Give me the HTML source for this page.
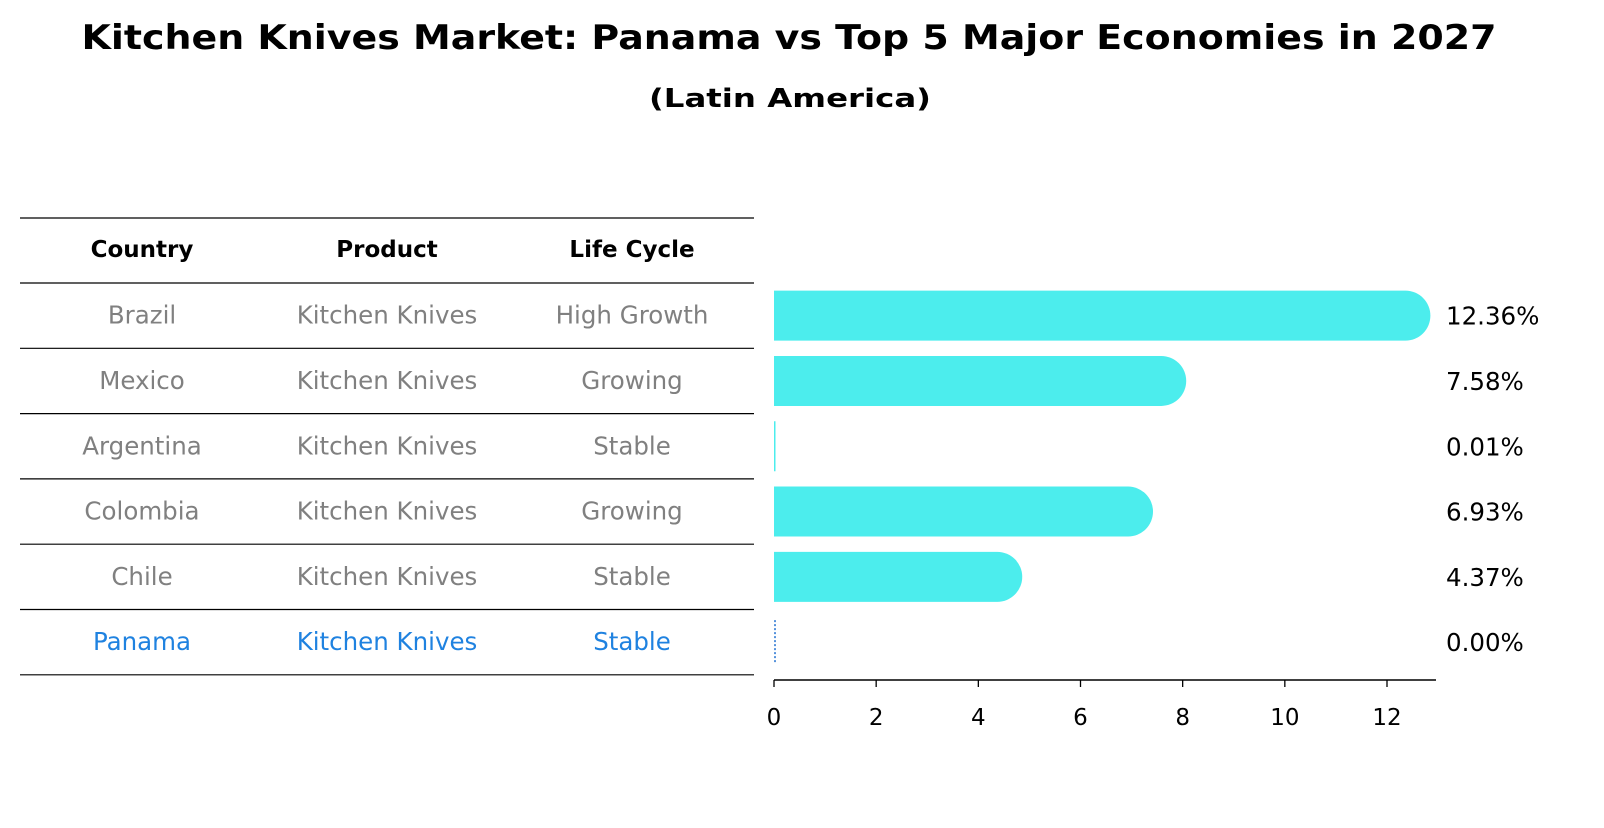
<!DOCTYPE html>
<html><head><meta charset="utf-8"><style>
body{margin:0;background:#fff;}
svg text{font-family:"DejaVu Sans","Liberation Sans",sans-serif;}
</style></head><body>
<svg width="1604" height="823" xmlns="http://www.w3.org/2000/svg" id="chart">
<text x="789" y="49" text-anchor="middle" font-size="34" font-weight="bold" textLength="1415" lengthAdjust="spacingAndGlyphs">Kitchen Knives Market: Panama vs Top 5 Major Economies in 2027</text>
<text x="790" y="107" text-anchor="middle" font-size="26" font-weight="bold" textLength="282" lengthAdjust="spacingAndGlyphs">(Latin America)</text>
<g id="table"></g>
<g id="bars"></g>
<g id="axis"></g>
</svg>
<script>
const countries=["Brazil","Mexico","Argentina","Colombia","Chile","Panama"];
const products=["Kitchen Knives","Kitchen Knives","Kitchen Knives","Kitchen Knives","Kitchen Knives","Kitchen Knives"];
const lifeCycles=["High Growth","Growing","Stable","Growing","Stable","Stable"];
const values=[12.36,7.58,0.01,6.93,4.37,0.00];
const ticks=[0,2,4,6,8,10,12];
const NS="http://www.w3.org/2000/svg";
function mk(tag,attrs,parent,txt){const e=document.createElementNS(NS,tag);for(const k in attrs)e.setAttribute(k,attrs[k]);if(txt!==undefined)e.textContent=txt;parent.appendChild(e);return e;}
const x0=774,xs=(1387-774)/12;
function X(v){return x0+v*xs;}
const rowTop=283,rowH=65.3;
function rowC(i){return rowTop+rowH*(i+0.5);}
const tbl=document.getElementById('table'),bars=document.getElementById('bars'),ax=document.getElementById('axis');
const colX=[142,387,632];
["Country","Product","Life Cycle"].forEach((h,j)=>{
 const t=mk('text',{x:colX[j],y:257,'text-anchor':'middle','font-size':23,'font-weight':'bold'},tbl,h);
 
 
});
for(let k=0;k<=countries.length+1;k++){
 const y=k==0?218:rowTop+rowH*(k-1);
 const l=mk('line',{x1:20,x2:754,y1:y,y2:y,stroke:'#000','stroke-width':1.2},tbl);
 
 
}
countries.forEach((c,i)=>{
 const col=c==="Panama"?"#1f82e0":"#808080";
 [c,products[i],lifeCycles[i]].forEach((s,j)=>{
  const t=mk('text',{x:colX[j],y:rowC(i)+8,'text-anchor':'middle','font-size':24.5,fill:col},tbl,s);
  
  
 });
 const v=values[i],cy=rowC(i),h=50,r=25;
 if(v>=0.3){
  const xe=X(v)+r;
  const p=mk('path',{d:`M${x0},${cy-h/2} H${xe-r} A${r},${r} 0 0 1 ${xe},${cy} A${r},${r} 0 0 1 ${xe-r},${cy+h/2} H${x0} Z`,fill:'#4ceded'},bars);
  
  
 } else if(c==="Panama"){
  const l=mk('line',{x1:X(v)+1,x2:X(v)+1,y1:cy-h/2+3,y2:cy+h/2-3,stroke:'#1f6fd0','stroke-width':1.5,'stroke-dasharray':'2,2'},bars);
  
  
 } else {
  const rr=mk('rect',{x:x0,y:cy-h/2,width:Math.max(1.5,X(v)-x0),height:h,fill:'#4ceded'},bars);
  
  
 }
 const t=mk('text',{x:1446,y:cy+9,'font-size':24.5},bars,v.toFixed(2)+'%');
 
 
});
const al=mk('line',{x1:x0,x2:1436,y1:680,y2:680,stroke:'#000','stroke-width':1.5},ax);


ticks.forEach(v=>{
 const tl=mk('line',{x1:X(v),x2:X(v),y1:680,y2:687,stroke:'#000','stroke-width':1.3},ax);
 
 
 const t=mk('text',{x:X(v),y:725,'text-anchor':'middle','font-size':23},ax,String(v));
 
 
});
</script>
</body></html>
